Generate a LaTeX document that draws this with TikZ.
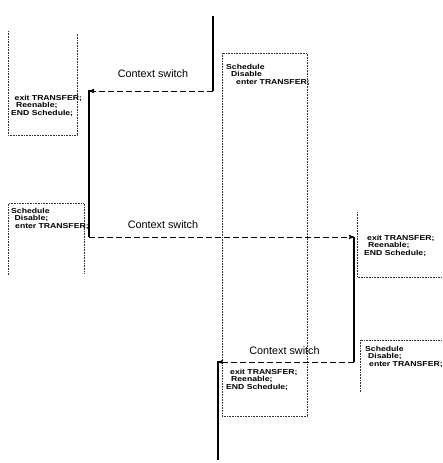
\documentclass[tikz,border=0pt]{standalone}
\usepackage{xcolor}
\usepackage{tikz}
\usetikzlibrary{arrows, positioning}
\usepackage{fontspec}
\setmainfont{Liberation Sans}
\newfontfamily\codefont[FakeStretch=1.2]{Liberation Sans}

\begin{document}
\begin{tikzpicture}[x=1pt, y=-1pt,
				>=stealth',
				ctx/.style={font=\fontsize{10.8}{12}\selectfont, inner sep=0pt, anchor=base},
				code/.style={font=\codefont\bfseries\fontsize{7.2}{7.4}\selectfont, inner sep=0pt, anchor=north west, align=left},
				thread/.style={line width=2.2pt, black},
				switch/.style={->, line width=0.9pt, dash pattern=on 6pt off 3pt, black},
				frame/.style={line width=0.6pt, dash pattern=on 0.8pt off 0.8pt, black!80}]
				\useasboundingbox (0,0) rectangle (442,463);
				% dotted frames
				\draw[frame] (8,31) -- (8,135) -- (77,135) -- (77,33);
				\draw[frame] (8.5,275) -- (8.5,203.5) -- (84,203.5) -- (84,273);
				\draw[frame] (222,53) rectangle (307,416);
				\draw[frame] (357,212) -- (357,277) -- (442,277);
				\draw[frame] (360,392) -- (360,340) -- (442,340);
				% code texts
				\node at (11,95) (exitA) [code] {\hspace{3.5pt}exit TRANSFER;\\\hspace{5pt}Reenable;\\END Schedule;};
				\node at (11,208) (enterB) [code] {Schedule\\\hspace{3.5pt}Disable;\\\hspace{4pt}enter TRANSFER;};
				\node at (226,64) (enterC) [code] {Schedule\\\hspace{5pt}Disable\\\hspace{10pt}enter TRANSFER;};
				\node at (364,235) (exitD) [code] {\hspace{3pt}exit TRANSFER;\\\hspace{4pt}Reenable;\\END Schedule;};
				\node at (365,346) (enterE) [code] {Schedule\\\hspace{3pt}Disable;\\\hspace{4pt}enter TRANSFER;};
				\node at (226,369) (exitC) [code] {\hspace{4pt}exit TRANSFER;\\\hspace{5pt}Reenable;\\END Schedule;};
				% context switch labels
				\node at (153,77) (csA) [ctx] {Context switch};
				\node at (163,228) (csB) [ctx] {Context switch};
				\node at (284.5,354) (csC) [ctx] {Context switch};
				% thread ends
				\coordinate (oneTop) at (213,16);
				\coordinate (oneBot) at (213,91);
				\coordinate (twoTop) at (89,91);
				\coordinate (twoBot) at (89,237);
				\coordinate (threeTop) at (354,237);
				\coordinate (threeBot) at (354,362);
				\coordinate (fourTop) at (218,362);
				\coordinate (fourBot) at (218,460);
				% threads and switches
				\draw[thread] (oneTop) -- (oneBot);
				\draw[switch] (oneBot) -- (twoTop);
				\draw[thread] ([xshift=5pt]twoTop) -- (twoTop) -- (twoBot);
				\draw[switch] (twoBot) -- (threeTop);
				\draw[thread] (threeTop) -- (threeBot);
				\draw[switch] (threeBot) -- (fourTop);
				\draw[thread] ([xshift=4pt]fourTop) -- (fourTop) -- (fourBot);
			\end{tikzpicture}
\end{document}
